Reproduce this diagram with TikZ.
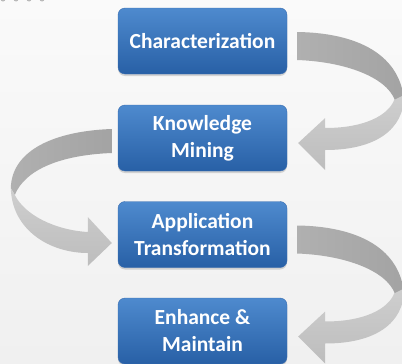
\documentclass[tikz,border=0pt]{standalone}
\usepackage{fontspec}
\setmainfont{Carlito}
\usetikzlibrary{shadows}

\definecolor{boxtop}{RGB}{78,138,206}
\definecolor{boxbot}{RGB}{40,96,166}
\definecolor{boxline}{RGB}{56,108,176}
\definecolor{bgtop}{RGB}{250,250,250}
\definecolor{bgbot}{RGB}{240,240,240}

\tikzset{
  stage/.style={rectangle,rounded corners=7pt,draw=boxline,top color=boxtop,bottom color=boxbot,
    minimum width=169pt,minimum height=66pt,text=white,align=center,
    font=\fontsize{21.5}{27}\selectfont\bfseries,
    drop shadow={opacity=0.3,shadow xshift=0pt,shadow yshift=-2pt}},
  ribbonback/.style={left color=gray!62,right color=gray!72},
  ribbonfront/.style={top color=gray!38,bottom color=gray!52},
  % ribbon leaving a box to the right and coming back below
  loopright/.pic={
    \path[ribbonback] (10,-9) .. controls (78,-8) and (116,19) .. (117,64) -- (109,64)
      .. controls (105,39) and (63,21) .. (10,19) -- cycle;
    \path[ribbonfront] (117,54) .. controls (117,89) and (88,109) .. (38,109) -- (38,129) -- (11,102)
      -- (38,77) -- (38,87) .. controls (78,87) and (101,74) .. (107,59) -- cycle;
  },
  % ribbon leaving a box to the left and coming back below
  loopleft/.pic={
    \path[ribbonback] (-6,-9) .. controls (-63,-7) and (-106,12) .. (-107,50) -- (-103,57)
      .. controls (-93,32) and (-58,17) .. (-6,15) -- cycle;
    \path[ribbonfront] (-107,50) .. controls (-106,92) and (-68,115) .. (-30,115) -- (-30,128) -- (-6,105)
      -- (-30,79) -- (-30,94) .. controls (-63,92) and (-93,77) .. (-103,57) -- cycle;
  }
}

\begin{document}
\begin{tikzpicture}[x=1pt,y=-1pt]
  \path[top color=bgtop,bottom color=bgbot] (0,0) rectangle (402,364);
  \useasboundingbox (0,0) rectangle (402,364);
  \foreach \x in {3,16,29,42}
    \fill[gray!55] (\x,-1) circle (2.5);

  \node[stage] (char) at (202.5,41) {Characterization};
  \node[stage] (know) at (202.5,138) {Knowledge\\Mining};
  \node[stage] (appl) at (202.5,234.5) {Application\\Transformation};
  \node[stage] (enh) at (202.5,331) {Enhance \&\\Maintain};

  \pic at (char.east) {loopright};
  \pic at (know.west) {loopleft};
  \pic at (appl.east) {loopright};
\end{tikzpicture}
\end{document}
